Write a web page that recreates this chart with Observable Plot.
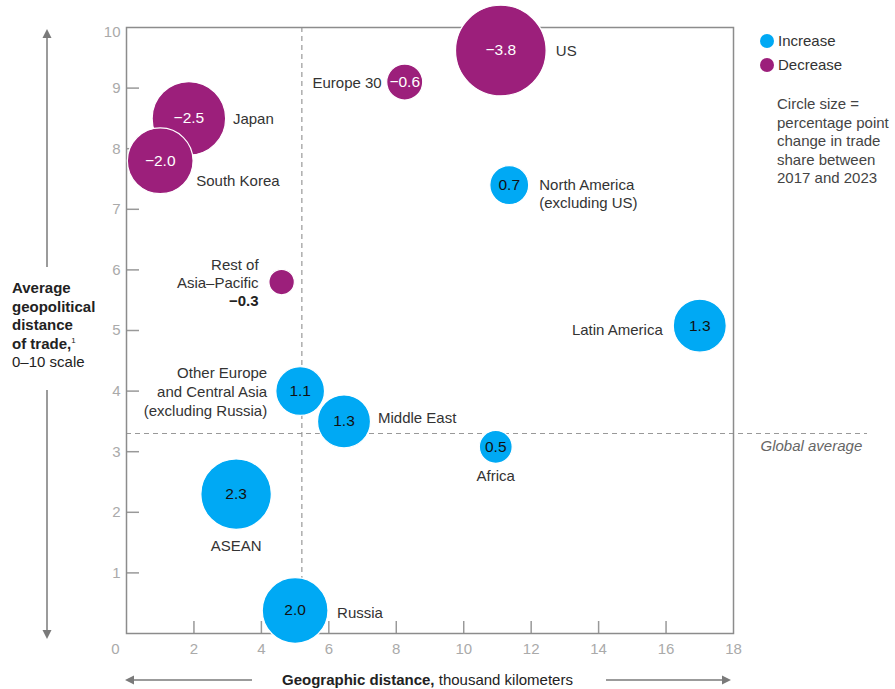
<!DOCTYPE html>
<html><head><meta charset="utf-8">
<script src="https://cdn.jsdelivr.net/npm/d3@7"></script>
<script src="https://cdn.jsdelivr.net/npm/@observablehq/plot@0.6"></script>
<style>
body{margin:0;background:#fff;font-family:"Liberation Sans",Arial,sans-serif;}
#wrap{position:relative;width:895px;height:689px;overflow:hidden;}
#wrap > svg{position:absolute;left:0;top:0;}
.ov{position:absolute;color:#222;font-size:15px;line-height:18.6px;white-space:nowrap;}
.dot{position:absolute;width:14px;height:14px;border-radius:50%;}
</style></head><body>
<div id="wrap"></div>
<script>
// ---- data ----
const regions = ["US","Europe 30","Japan","South Korea","Rest of\nAsia–Pacific","Other Europe\nand Central Asia\n(excluding Russia)","Middle East","Africa","ASEAN","Russia","North America\n(excluding US)","Latin America"];
const geoDistance = [11.1, 8.25, 1.85, 1.0, 4.6, 5.15, 6.45, 10.95, 3.25, 5.0, 11.35, 17.0];
const geopolDistance = [9.62, 9.1, 8.5, 7.8, 5.8, 4.0, 3.5, 3.08, 2.3, 0.38, 7.4, 5.08];
const shareChange = [-3.8, -0.6, -2.5, -2.0, -0.3, 1.1, 1.3, 0.5, 2.3, 2.0, 0.7, 1.3];
const globalAvgGeo = 5.2;
const globalAvgGeopol = 3.3;
const xTicks = [0, 2, 4, 6, 8, 10, 12, 14, 16, 18];
const yTicks = [1, 2, 3, 4, 5, 6, 7, 8, 9, 10];
const seriesNames = ["Increase", "Decrease"];

// ---- layout / style ----
const W = 895, H = 689, mL = 126, mT = 27, mR = 162, mB = 56;
const innerW = W - mL - mR, innerH = H - mT - mB;
const colors = ["#00a9f4", "#9c1f7b"];
const font = "Liberation Sans, Arial, sans-serif";
// [textAnchor, dx, dy] for each region label
const labelLayout = [
  ["start", 55, 0], ["end", -23, 0], ["start", 44, 0], ["start", 36, 19],
  ["end", -23, -9], ["end", -33, 0], ["start", 34, -4], ["middle", 0, 28],
  ["middle", 0, 51], ["start", 42, 2], ["start", 30, 8], ["end", -37, 3]
];

const rows = regions.map((name, i) => ({
  name, x: geoDistance[i], y: geopolDistance[i], change: shareChange[i],
  kind: shareChange[i] < 0 ? "Decrease" : "Increase"
}));
const fmt = v => (v < 0 ? "\u2212" : "") + Math.abs(v).toFixed(1);

const labelMarks = rows.map((d, i) => Plot.text([d], {
  x: "x", y: "y", text: "name",
  textAnchor: labelLayout[i][0], dx: labelLayout[i][1], dy: labelLayout[i][2],
  lineHeight: 1.24, fill: "#333", fontSize: 15
}));

const chart = Plot.plot({
  width: W, height: H,
  marginLeft: mL, marginTop: mT, marginRight: mR, marginBottom: mB,
  style: {fontFamily: font, fontSize: "15px", overflow: "visible", background: "transparent"},
  x: {domain: [0, 18], axis: null},
  y: {domain: [0, 10], axis: null},
  r: {type: "sqrt", domain: [0, 3.8], range: [0, 45.3]},
  color: {domain: seriesNames, range: colors},
  marks: [
    Plot.ruleX([globalAvgGeo], {x: d => d, stroke: "#999", strokeDasharray: "5,4", strokeWidth: 1.2}),
    Plot.ruleY([globalAvgGeopol], {y: d => d, stroke: "#999", strokeDasharray: "5,4", strokeWidth: 1.2, insetRight: -134}),
    Plot.text([globalAvgGeopol], {y: d => d, text: () => "Global average", frameAnchor: "right", dx: 27, dy: 13, textAnchor: "start", fontStyle: "italic", fill: "#666", fontSize: 15}),
    Plot.tickY(yTicks.filter(t => t < 10), {y: d => d, stroke: "#999", strokeWidth: 1.5, insetRight: innerW - 13}),
    Plot.tickX(xTicks.filter(t => t > 0 && t < 18), {x: d => d, stroke: "#999", strokeWidth: 1.5, insetTop: innerH - 12}),
    Plot.frame({stroke: "#8c8c8c", strokeWidth: 1.5}),
    Plot.text(yTicks.filter(t => t < 10), {y: d => d, text: d => String(d), frameAnchor: "left", dx: -6, textAnchor: "end", fill: "#aaa", fontSize: 15}),
    Plot.text([10], {y: d => d, text: d => String(d), frameAnchor: "left", dx: -6, dy: 5, textAnchor: "end", fill: "#aaa", fontSize: 15}),
    Plot.text(xTicks.filter(t => t > 0), {x: d => d, text: d => String(d), frameAnchor: "bottom", dy: 20, fill: "#aaa", fontSize: 15}),
    Plot.text([0], {x: d => d, text: d => String(d), frameAnchor: "bottom", dy: 20, dx: -11, fill: "#aaa", fontSize: 15}),
    Plot.dot(rows, {x: "x", y: "y", r: d => Math.abs(d.change), fill: "kind", stroke: "white", strokeWidth: 1.2, sort: null}),
    Plot.text(rows.filter(d => Math.abs(d.change) >= 0.5), {x: "x", y: "y", text: d => fmt(d.change),
      fill: d => d.change < 0 ? "white" : "#111", fontSize: 15.5}),
    Plot.text(rows.filter(d => Math.abs(d.change) < 0.5), {x: "x", y: "y", text: d => fmt(d.change),
      textAnchor: "end", dx: -23, dy: 19, fontWeight: "bold", fill: "#222", fontSize: 15}),
    ...labelMarks
  ]
});

const wrap = document.getElementById("wrap");
wrap.appendChild(chart);

// ---- annotations (titles, legend, arrows) ----
const ov = document.createElement("div");
ov.innerHTML = `
<svg width="${W}" height="${H}" style="position:absolute;left:0;top:0">
  <g stroke="#7a7a7a" stroke-width="1.5" fill="none">
    <line x1="47" y1="36" x2="47" y2="267"/>
    <line x1="47" y1="390" x2="47" y2="632"/>
    <line x1="130" y1="680" x2="252" y2="680"/>
    <line x1="606" y1="680" x2="726" y2="680"/>
  </g>
  <g fill="#7a7a7a">
    <path d="M47,29 L42.5,38 L51.5,38 Z"/>
    <path d="M47,639 L42.5,630 L51.5,630 Z"/>
    <path d="M125,680 L134,675.5 L134,684.5 Z"/>
    <path d="M731,680 L722,675.5 L722,684.5 Z"/>
  </g>
</svg>
<div class="ov" style="left:12px;top:279px;">
  <b>Average<br>geopolitical<br>distance<br>of trade,</b><sup style="font-size:8px;vertical-align:6px;line-height:0">1</sup><br>0–10 scale
</div>
<div class="ov" style="left:282px;top:671px;"><b>Geographic distance,</b> thousand kilometers</div>
<div class="dot" style="left:760px;top:34px;background:${colors[0]}"></div>
<div class="ov" style="left:778px;top:32px;color:#333">${seriesNames[0]}</div>
<div class="dot" style="left:760px;top:58px;background:${colors[1]}"></div>
<div class="ov" style="left:778px;top:56px;color:#333">${seriesNames[1]}</div>
<div class="ov" style="left:777px;top:95px;color:#444">Circle size =<br>percentage point<br>change in trade<br>share between<br>2017 and 2023</div>
`;
while (ov.firstChild) wrap.appendChild(ov.firstChild);
</script>
</body></html>
